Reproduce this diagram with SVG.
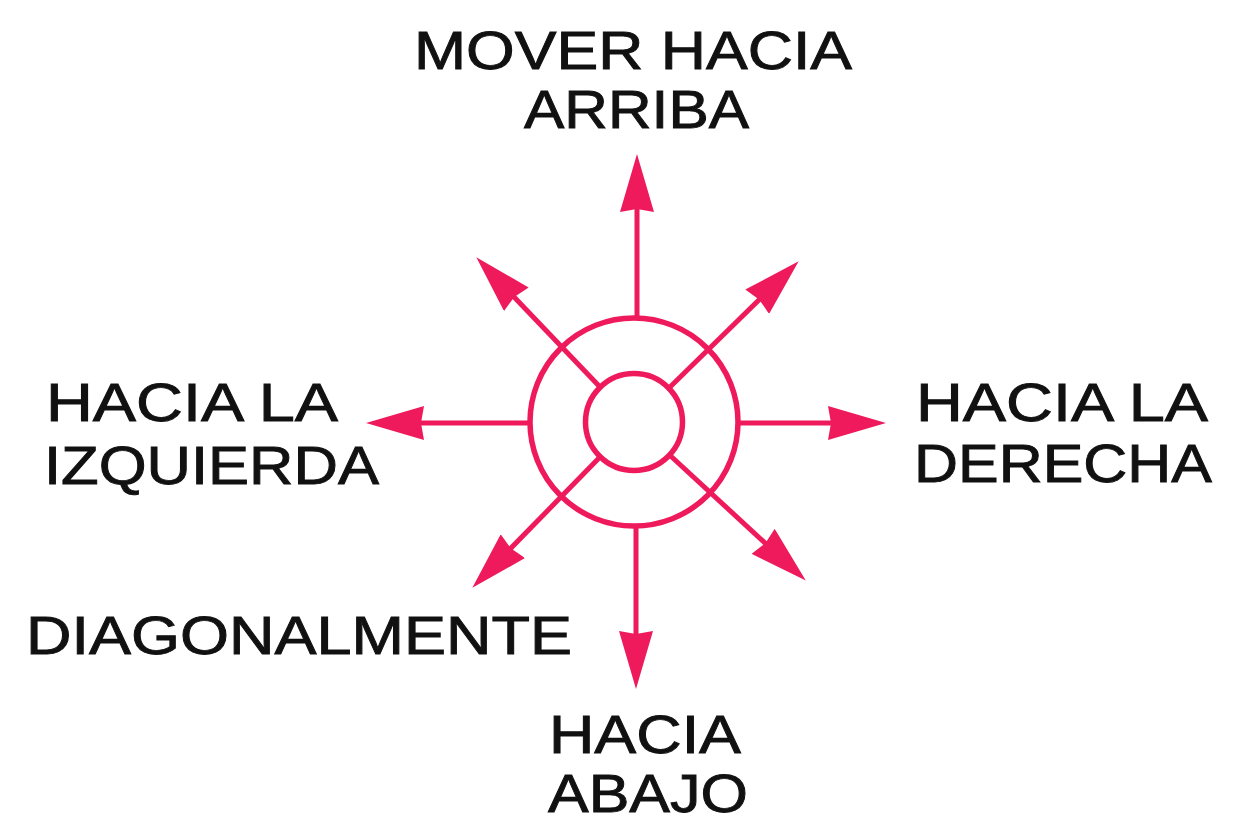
<svg xmlns="http://www.w3.org/2000/svg" width="1239" height="822" viewBox="0 0 1239 822">
<defs>
<style>
.c{fill:none;stroke:#EE1A5C;stroke-width:5.5}
.l{fill:none;stroke:#EE1A5C;stroke-width:5;marker-end:url(#ah)}
.t{font-family:"Liberation Sans",Arial,Helvetica,sans-serif;font-size:53px;fill:#111;stroke:#111;stroke-width:0.9}
</style>
<marker id="ah" viewBox="0 0 58 34" refX="27" refY="17" markerWidth="58" markerHeight="34" markerUnits="userSpaceOnUse" orient="auto">
<path d="M0,0 L58,17 L0,34 L3,17 Z" fill="#EE1A5C"/>
</marker>
</defs>
<rect width="1239" height="822" fill="#ffffff"/>
<g id="center">
<circle class="c" cx="634" cy="422" r="104"/>
<circle class="c" cx="634" cy="422" r="48.5"/>
</g>
<g id="connectors">
<line class="l" x1="637" y1="318" x2="637" y2="185"/>
<line class="l" x1="636" y1="526" x2="636" y2="658"/>
<line class="l" x1="531" y1="423" x2="397" y2="423"/>
<line class="l" x1="738" y1="423" x2="855" y2="423"/>
<line class="l" x1="600" y1="387" x2="497.7" y2="279.7"/>
<line class="l" x1="669" y1="388" x2="776.5" y2="282.9"/>
<line class="l" x1="669.6" y1="455" x2="783" y2="559.6"/>
<line class="l" x1="600" y1="457" x2="494" y2="565.5"/>
</g>
<g id="label-up">
<text class="t" x="414" y="69" textLength="438" lengthAdjust="spacingAndGlyphs">MOVER HACIA</text>
<text class="t" x="524" y="128" textLength="225" lengthAdjust="spacingAndGlyphs">ARRIBA</text>
</g>
<g id="label-left">
<text class="t" x="46" y="421" textLength="292" lengthAdjust="spacingAndGlyphs">HACIA LA</text>
<text class="t" x="44" y="484" textLength="335" lengthAdjust="spacingAndGlyphs">IZQUIERDA</text>
</g>
<g id="label-right">
<text class="t" x="916" y="421" textLength="292" lengthAdjust="spacingAndGlyphs">HACIA LA</text>
<text class="t" x="914" y="482" textLength="298" lengthAdjust="spacingAndGlyphs">DERECHA</text>
</g>
<g id="label-diag">
<text class="t" x="26" y="654" textLength="546" lengthAdjust="spacingAndGlyphs">DIAGONALMENTE</text>
</g>
<g id="label-down">
<text class="t" x="549" y="753" textLength="192" lengthAdjust="spacingAndGlyphs">HACIA</text>
<text class="t" x="548" y="812" textLength="200" lengthAdjust="spacingAndGlyphs">ABAJO</text>
</g>
</svg>
